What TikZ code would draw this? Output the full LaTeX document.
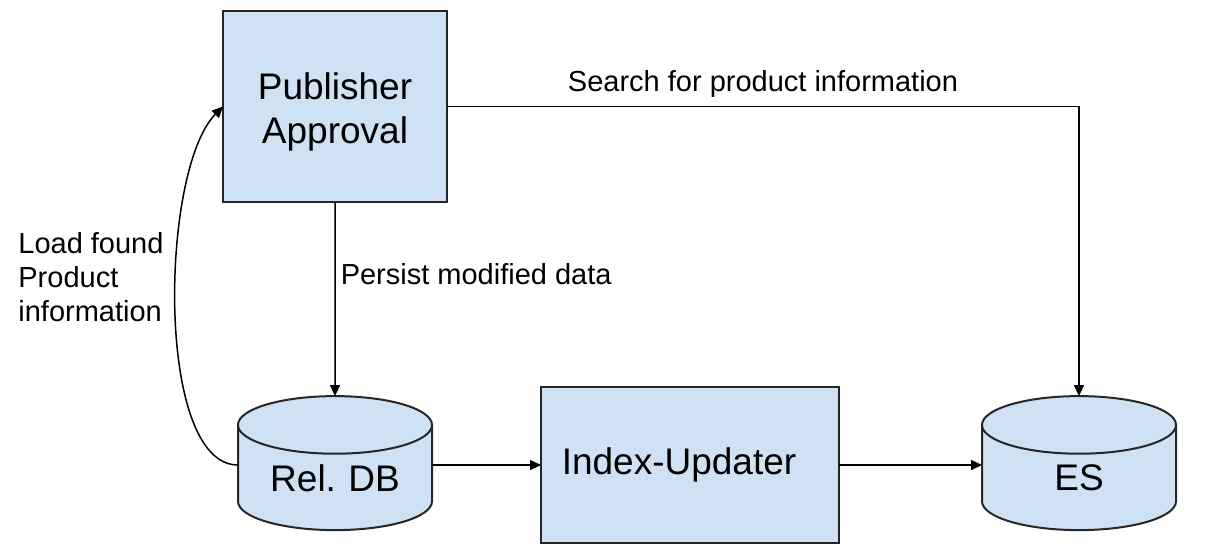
\documentclass[tikz,border=0pt]{standalone}
\usepackage{fontspec}
\setmainfont{Liberation Sans}
\usepackage{xcolor}
\definecolor{boxbg}{HTML}{CFE2F3}
\definecolor{boxbd}{HTML}{262626}
\usetikzlibrary{positioning, arrows.meta, shapes.geometric}

\begin{document}
\begin{tikzpicture}[
  x=0.5pt, y=-0.5pt,
  block/.style={draw=boxbd, fill=boxbg, line width=1pt, inner sep=0pt, outer sep=0pt,
               font=\fontsize{18.5}{22}\selectfont, align=center},
  store/.style={draw=boxbd, fill=boxbg, line width=1pt, cylinder, shape border rotate=90,
               aspect=0.32, text width=90pt, align=center, minimum width=97pt, minimum height=67pt,
               inner sep=0pt, outer sep=0pt, font=\fontsize{18.5}{22}\selectfont},
  lbl/.style={font=\fontsize{14.5}{17}\selectfont, align=left, inner sep=0pt},
  arrow/.style={-{Triangle[length=5.5pt, width=5pt]}, line width=0.75pt, draw=black},
]
\useasboundingbox (0,0) rectangle (1220,554);

% --- Services ---
\node[block, minimum width=112pt, minimum height=95.5pt] (pub) at (335,106.5) {\rule{0pt}{18.5pt}Publisher\\Approval};
\node[block, minimum width=149pt, minimum height=78pt] (idx) at (690,465) {Index-Updater\hspace*{11pt}};

% --- Stores ---
\node[store] (reldb) at (335,478) {Rel.\ DB};
\node[store] (es) at (1079,478) {ES};

% Arrows
\draw[arrow] (pub) -- node[lbl, pos=0.37, right=2.5pt] (persist) {Persist modified data} (reldb.north);
\draw[arrow] (idx.west -| reldb.east) -- (idx.west);
\draw[arrow] (idx.east) -- (idx.east -| es.west);
\draw[arrow] (pub.east) -| node[lbl, pos=0.25, above=4pt] (search) {Search for product information} (es.north);
\draw[arrow] (idx.west -| reldb.west) .. controls (155,465) and (160,170) .. (pub.west);

% Annotation
\node[lbl, anchor=west] (load) at (18,277) {Load found\\Product\\information};
\end{tikzpicture}
\end{document}
